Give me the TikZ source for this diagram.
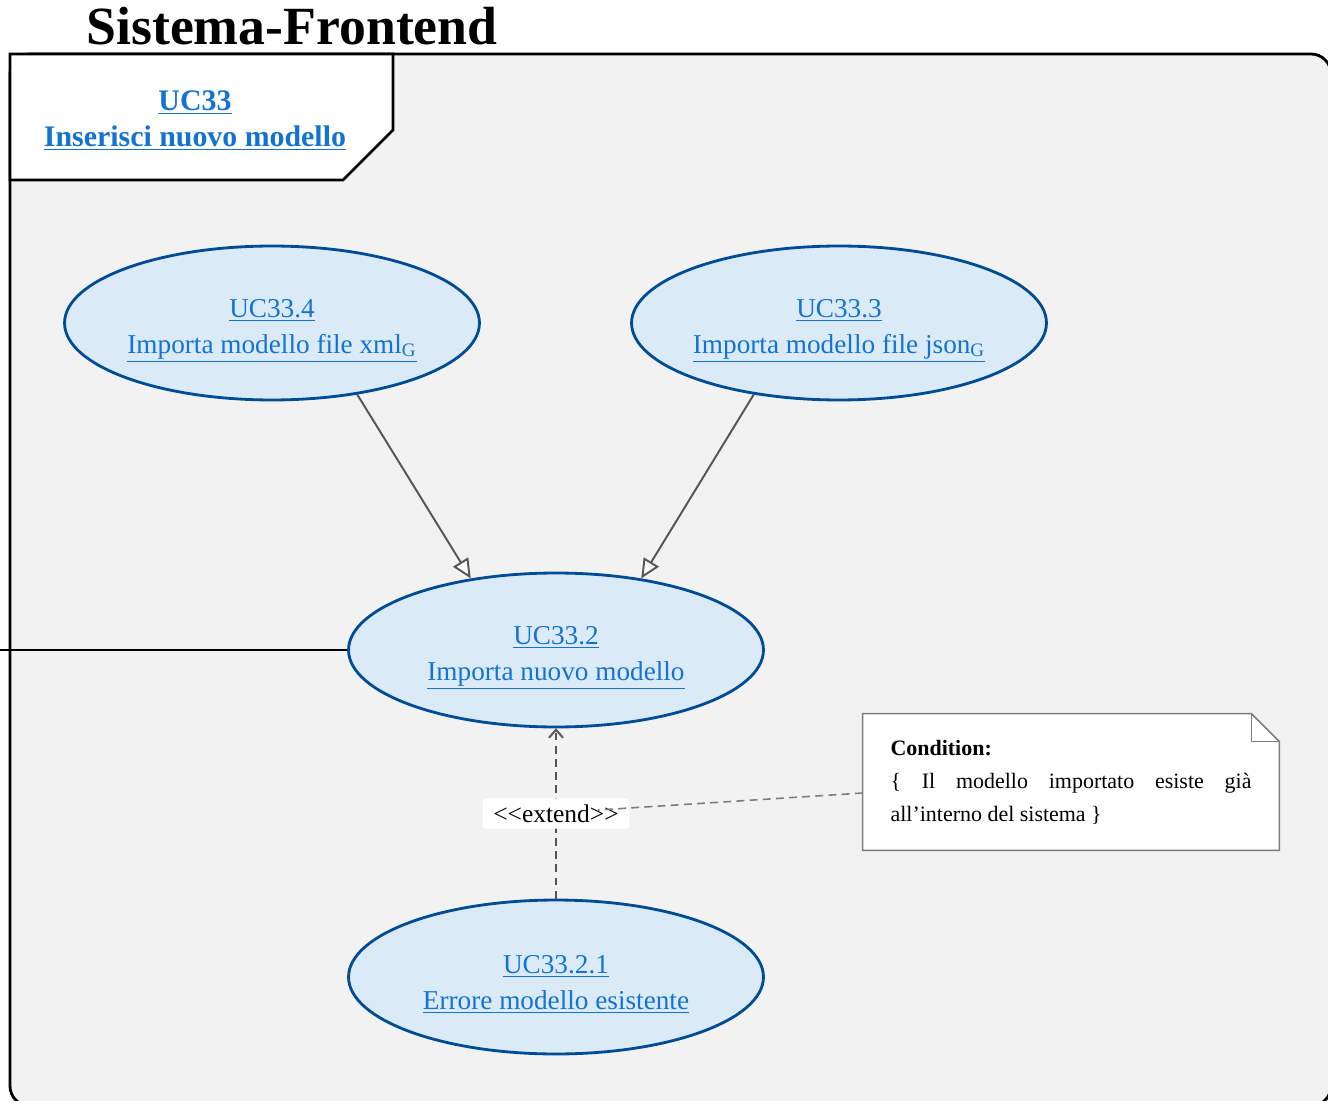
\documentclass[tikz,border=0pt]{standalone}
\usepackage{fontspec}
\setmainfont{Liberation Serif}
\usepackage{xcolor}
\usepackage{tikz}
\usetikzlibrary{calc, positioning, arrows.meta, shapes.geometric}

\definecolor{ucfill}{RGB}{218,234,247}
\definecolor{ucline}{RGB}{0,76,150}
\definecolor{uclink}{RGB}{20,115,210}
\definecolor{sysbg}{RGB}{242,242,242}
\definecolor{relgray}{RGB}{85,85,85}
\definecolor{notegray}{RGB}{125,125,125}

\begin{document}
\begin{tikzpicture}[
  % one unit = one pixel of the page, y going down
  x=0.02cm,
  y=-0.02cm,
  usecase/.style={ellipse, draw=ucline, fill=ucfill, line width=1.6pt, inner sep=0pt,
    minimum width=8.3cm, minimum height=3.08cm, align=center,
    text=uclink, font=\fontsize{15.5}{20.5}\selectfont},
  generalize/.style={draw=relgray, line width=1.1pt,
    -{Triangle[open, length=11pt, width=10pt, fill=white]}},
  extendrel/.style={draw=relgray, line width=1.1pt, dash pattern=on 4.5pt off 3pt,
    -{Straight Barb[length=4.5pt, width=8pt]}},
  frameline/.style={draw=black, line width=1.6pt}
]
  \useasboundingbox (0,0) rectangle (1328,1101);
  \clip (0,0) rectangle (1328,1101);

  % System boundary
  \draw[frameline, fill=sysbg, rounded corners=0.4cm] (10,54) rectangle (1331,1106);
  \node[anchor=base, font=\fontsize{30.6}{36}\selectfont\bfseries] (title) at (292,45) {Sistema-Frontend};

  % Package tab
  \draw[frameline, fill=white] (10,54) -- (393,54) -- (393,130) -- (343,180) -- (10,180) -- cycle;
  \node[align=center, text=uclink, font=\fontsize{17}{20.5}\selectfont\bfseries] (uc33) at (195,121)
    {\underline{UC33}\\\underline{Inserisci nuovo modello}};

  % Use cases
  \node[usecase] (uc334) at (272,323) {\rule{0pt}{19pt}\underline{UC33.4}\\\underline{Importa modello file xml\textsubscript{G}}};
  \node[usecase] (uc333) at (839,323) {\rule{0pt}{19pt}\underline{UC33.3}\\\underline{Importa modello file json\textsubscript{G}}};
  \node[usecase] (uc332) at (556,650) {\rule{0pt}{19pt}\underline{UC33.2}\\\underline{Importa nuovo modello}};
  \node[usecase] (uc3321) at (556,977) {\rule{0pt}{19pt}\underline{UC33.2.1}\\\underline{Errore modello esistente}};

  % Actor association (coming from outside)
  \coordinate (actor) at (0,650);
  \draw[line width=0.6pt] (actor) -- (uc332.west);

  % Generalizations
  \draw[generalize] (uc334.-40) -- (uc332.140);
  \draw[generalize] (uc333.220) -- (uc332.40);

  % Extend
  \draw[extendrel] (uc3321.north) -- (uc332.south)
    node[midway, fill=white, rounded corners=2pt, inner xsep=6pt, inner ysep=3.5pt, text=black,
      font=\fontsize{14.5}{16}\selectfont] (ext) {<{}<extend>{}>};

  % Condition note
  \node[fill=white, minimum width=8.32cm, minimum height=2.72cm, text width=7.22cm,
    align=justify, inner sep=0pt, font=\fontsize{12.5}{18.7}\selectfont] (note) at (1071,782)
    {\textbf{Condition:}\\ \{ Il modello importato esiste già\linebreak all’interno del sistema \}};
  \fill[sysbg] ([xshift=-0.56cm]note.north east) -- (note.north east) -- ([yshift=-0.56cm]note.north east) -- cycle;
  \draw[notegray, line width=0.9pt] (note.north west) -- ([xshift=-0.56cm]note.north east)
    -- ([yshift=-0.56cm]note.north east) -- (note.south east) -- (note.south west) -- cycle;
  \draw[notegray, line width=0.9pt] ([xshift=-0.56cm]note.north east) -- ++(0,28) -- ++(28,0);
  \coordinate (extnote) at (598,810);
  \draw[notegray, line width=0.9pt, dash pattern=on 4.5pt off 3pt] ([yshift=-0.22cm]note.west) -- (extnote);
\end{tikzpicture}
\end{document}
